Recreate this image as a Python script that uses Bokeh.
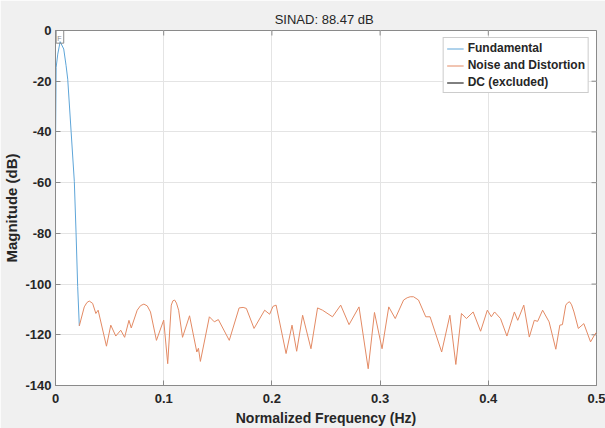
from bokeh.plotting import figure
from bokeh.models import Range1d, FixedTicker, Legend, LegendItem
from bokeh.embed import file_html
from bokeh.resources import INLINE

# ---- data ----
title_text = "SINAD:  88.47 dB"
x_label = "Normalized Frequency (Hz)"
y_label = "Magnitude (dB)"

x_ticks = [0, 0.1, 0.2, 0.3, 0.4, 0.5]
x_tick_labels = ["0", "0.1", "0.2", "0.3", "0.4", "0.5"]
y_ticks = [-140, -120, -100, -80, -60, -40, -20, 0]
y_tick_labels = ["-140", "-120", "-100", "-80", "-60", "-40", "-20", "0"]

fund_freq = [0.0, 0.0006, 0.0021, 0.0043, 0.0076, 0.0098, 0.0113, 0.0144, 0.0174, 0.0190, 0.0205, 0.0220]
fund_db = [-46.0, -14.5, -9.3, -4.4, -7.3, -13.9, -19.2, -39.7, -59.5, -79.8, -101.0, -116.5]

noise_freq = [0.0220, 0.0266, 0.0290, 0.0312, 0.0343, 0.0373, 0.0394, 0.0471, 0.0511, 0.0557,
              0.0603, 0.0639, 0.0679, 0.0700, 0.0755, 0.0786, 0.0817, 0.0848, 0.0878, 0.0933,
              0.1000, 0.1037, 0.1070, 0.1085, 0.1101, 0.1118, 0.1138, 0.1174, 0.1239, 0.1306,
              0.1321, 0.1339, 0.1422, 0.1468, 0.1505, 0.1606, 0.1697, 0.1734, 0.1764, 0.1835,
              0.1933, 0.1979, 0.2010, 0.2039, 0.2131, 0.2186, 0.2229, 0.2284, 0.2361, 0.2422,
              0.2468, 0.2560, 0.2636, 0.2713, 0.2805, 0.2890, 0.2948, 0.3018, 0.3080, 0.3140,
              0.3217, 0.3250, 0.3278, 0.3309, 0.3355, 0.3422, 0.3462, 0.3569, 0.3645, 0.3700,
              0.3752, 0.3798, 0.3860, 0.3929, 0.3991, 0.4028, 0.4058, 0.4113, 0.4172, 0.4241,
              0.4272, 0.4328, 0.4379, 0.4425, 0.4456, 0.4502, 0.4562, 0.4624, 0.4661, 0.4685,
              0.4716, 0.4735, 0.4752, 0.4770, 0.4792, 0.4832, 0.4883, 0.4945, 0.4984, 0.5000]
noise_db = [-116.5, -109.0, -107.3, -106.7, -107.6, -111.6, -110.3, -124.5, -116.2, -120.5,
            -118.2, -121.0, -114.3, -117.3, -110.3, -108.5, -107.9, -108.6, -111.0, -122.2,
            -114.2, -131.4, -108.3, -106.6, -106.3, -107.5, -110.3, -121.0, -112.5, -126.8,
            -125.3, -130.5, -112.9, -114.9, -114.0, -122.2, -109.4, -109.2, -109.6, -117.5,
            -110.3, -111.9, -108.8, -108.3, -127.4, -116.2, -126.5, -112.3, -125.5, -109.4,
            -110.3, -112.9, -108.3, -116.0, -109.0, -133.4, -111.2, -125.5, -109.0, -113.6,
            -106.3, -105.4, -105.0, -105.0, -106.3, -112.9, -112.9, -126.8, -112.3, -131.7,
            -111.6, -113.6, -111.0, -118.6, -110.3, -112.9, -111.0, -113.6, -120.5, -111.0,
            -114.3, -108.3, -120.9, -114.3, -114.7, -110.3, -114.9, -125.7, -116.2, -116.0,
            -108.3, -107.3, -107.0, -108.2, -111.0, -117.5, -115.6, -122.8, -119.9, -119.0]

dc_freq = [0.0]
dc_db = [float("nan")]

marker_left, marker_right = 0.0006, 0.0076
marker_top, marker_bottom = 0.0, -5.0
marker_text_x, marker_text_y = 0.0037, -3.0

series_names = ["Fundamental", "Noise and Distortion", "DC (excluded)"]

# ---- styling ----
FONT = "Liberation Sans"
TXT = "#262626"
AX = "#8a8a8a"
X0, X1, Y0, Y1 = 0, 0.5, -140, 0
FRAME_W, FRAME_H, TICK_PX = 545, 355, 5

p = figure(width=605, height=428, output_backend="svg", toolbar_location=None,
           x_range=Range1d(X0, X1), y_range=Range1d(Y0, Y1),
           min_border_left=51, min_border_right=9, min_border_top=30, min_border_bottom=43)
p.border_fill_color = "#f0f0f0"
p.background_fill_color = "white"
p.outline_line_color = AX

p.title.text = title_text
p.title.align = "center"
p.title.text_font = FONT
p.title.text_font_size = "13px"
p.title.text_font_style = "normal"
p.title.text_color = TXT
p.title.standoff = 8

for ax, ticks, labels in ((p.xaxis[0], x_ticks, x_tick_labels), (p.yaxis[0], y_ticks, y_tick_labels)):
    ax.ticker = FixedTicker(ticks=ticks)
    ax.major_label_overrides = {t: l for t, l in zip(ticks, labels)}
    ax.major_label_text_font = FONT
    ax.major_label_text_font_style = "bold"
    ax.major_label_text_font_size = "13px"
    ax.major_label_text_color = TXT
    ax.axis_line_color = AX
    ax.major_tick_line_color = AX
    ax.major_tick_in = TICK_PX
    ax.major_tick_out = 0
    ax.minor_tick_line_color = None
    ax.axis_label_text_font = FONT
    ax.axis_label_text_font_style = "bold"
    ax.axis_label_text_color = TXT
p.xaxis.major_label_standoff = 8
p.yaxis.major_label_standoff = 4
p.xaxis.axis_label_standoff = 4
p.yaxis.axis_label_standoff = 2
p.xaxis.axis_label = x_label
p.yaxis.axis_label = y_label
p.xaxis.axis_label_text_font_size = "14px"
p.yaxis.axis_label_text_font_size = "15px"

# inward ticks on the top and right edges of the box (MATLAB "box on")
dy = TICK_PX * (Y1 - Y0) / FRAME_H
dx = TICK_PX * (X1 - X0) / FRAME_W
p.segment(x0=x_ticks, x1=x_ticks, y0=[Y1] * len(x_ticks), y1=[Y1 - dy] * len(x_ticks),
          line_color=AX, line_width=1)
p.segment(x0=[X1] * len(y_ticks), x1=[X1 - dx] * len(y_ticks), y0=y_ticks, y1=y_ticks,
          line_color=AX, line_width=1)

p.xgrid.grid_line_color = "#e4e4e4"
p.ygrid.grid_line_color = "#e4e4e4"

r_f = p.line(fund_freq, fund_db, line_color="#5ea5d8", line_width=1)
r_n = p.line(noise_freq, noise_db, line_color="#e38a64", line_width=1)
r_dc = p.line(dc_freq, dc_db, line_color="black", line_width=1)

p.quad(left=[marker_left], right=[marker_right], top=[marker_top], bottom=[marker_bottom],
       fill_color=None, line_color="#8a8a8a", line_width=1)
p.text(x=[marker_text_x], y=[marker_text_y], text=["F"], text_font_size="7px",
       text_color="#8a8a8a", text_align="center", text_baseline="middle")

legend = Legend(items=[LegendItem(label=series_names[0], renderers=[r_f]),
                       LegendItem(label=series_names[1], renderers=[r_n]),
                       LegendItem(label=series_names[2], renderers=[r_dc])],
                location="top_right", margin=7, padding=3, spacing=3,
                label_height=13, glyph_height=13, glyph_width=17, label_standoff=4,
                label_text_font=FONT, label_text_font_style="bold", label_text_font_size="12px",
                label_text_color=TXT, border_line_color="#9a9a9a", background_fill_color="white",
                background_fill_alpha=1.0)
p.add_layout(legend)

open("out.html", "w").write(file_html(p, INLINE))
